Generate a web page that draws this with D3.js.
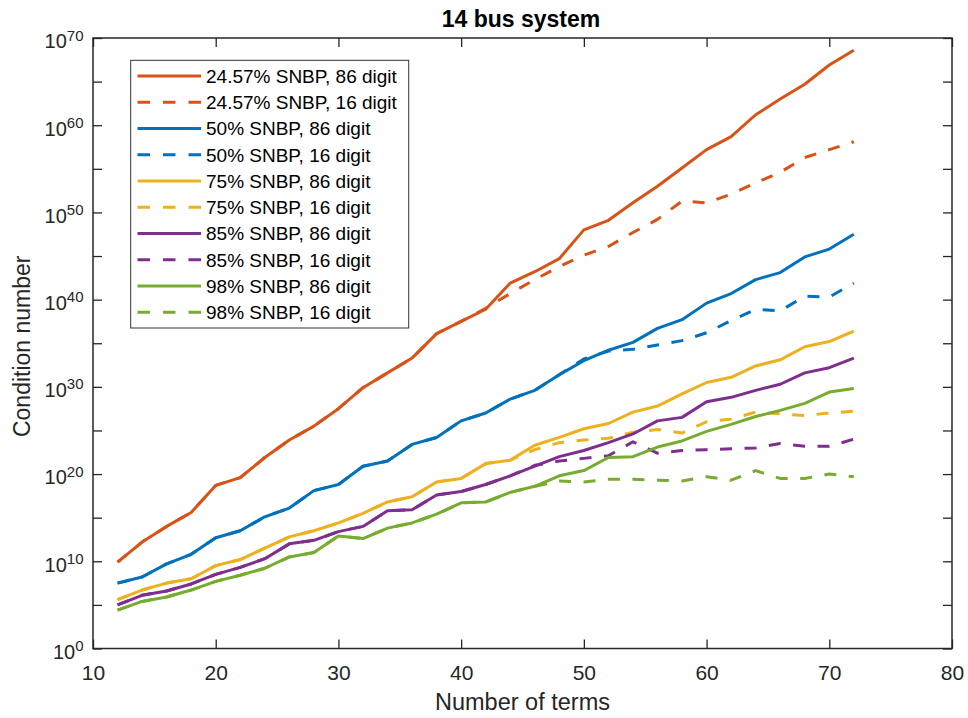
<!DOCTYPE html>
<html>
<head>
<meta charset="utf-8">
<script src="https://cdn.jsdelivr.net/npm/d3@7"></script>
<style>
html,body{margin:0;padding:0;background:#fff;}
svg{display:block;font-family:"Liberation Sans",Arial,Helvetica,sans-serif;}
</style>
</head>
<body>
<svg id="chart" width="968" height="718"></svg>
<script>
// ---- data (log10 of condition number) ----
const terms = [12,14,16,18,20,22,24,26,28,30,32,34,36,38,40,42,44,46,48,50,52,54,56,58,60,62,64,66,68,70,72];
const xTicks = [10,20,30,40,50,60,70,80];
const yTickExps = [0,5,10,15,20,25,30,35,40,45,50,55,60,65,70];
const yLabelExps = [0,10,20,30,40,50,60,70];

const snbp2457_86 = [9.9,12.2,14.0,15.6,18.7,19.6,21.9,23.9,25.5,27.5,29.9,31.6,33.3,36.1,37.5,38.9,41.9,43.2,44.7,48.0,49.1,51.1,53.0,55.1,57.2,58.7,61.2,63.0,64.7,66.9,68.6];
const snbp2457_16 = [9.9,12.2,14.0,15.6,18.7,19.6,21.9,23.9,25.5,27.5,29.9,31.6,33.3,36.1,37.5,39.0,40.7,42.3,43.8,45.1,46.1,47.7,49.2,51.3,51.1,52.1,53.4,54.6,56.3,57.2,58.1];
const snbp50_86 = [7.5,8.2,9.7,10.8,12.7,13.5,15.1,16.1,18.1,18.8,20.9,21.5,23.4,24.2,26.1,27.0,28.6,29.6,31.4,33.0,34.2,35.1,36.7,37.7,39.6,40.7,42.3,43.1,44.9,45.8,47.5];
const snbp50_16 = [7.5,8.2,9.7,10.8,12.7,13.5,15.1,16.1,18.1,18.8,20.9,21.5,23.4,24.2,26.1,27.0,28.6,29.6,31.4,33.2,34.1,34.3,34.8,35.3,36.2,37.6,38.9,38.7,40.4,40.3,41.9];
const snbp75_86 = [5.6,6.7,7.5,8.0,9.5,10.2,11.5,12.8,13.5,14.4,15.5,16.8,17.4,19.1,19.5,21.2,21.6,23.3,24.2,25.2,25.8,27.1,27.8,29.2,30.5,31.1,32.4,33.1,34.6,35.2,36.4];
const snbp75_16 = [5.6,6.7,7.5,8.0,9.5,10.2,11.5,12.8,13.5,14.4,15.5,16.8,17.4,19.1,19.5,21.2,21.6,22.8,23.6,23.9,24.1,24.8,25.1,24.7,26.0,26.3,27.1,26.9,26.7,27.0,27.2];
const snbp85_86 = [5.0,6.1,6.6,7.4,8.5,9.3,10.3,12.0,12.4,13.4,14.0,15.8,15.9,17.6,18.0,18.8,19.8,20.9,22.0,22.7,23.6,24.6,26.1,26.5,28.3,28.8,29.6,30.3,31.6,32.2,33.3];
const snbp85_16 = [5.0,6.1,6.6,7.4,8.5,9.3,10.3,12.0,12.4,13.4,14.0,15.8,15.9,17.6,18.0,18.8,19.8,21.0,21.5,21.8,22.1,23.7,22.4,22.7,22.8,22.9,23.0,23.5,23.2,23.2,24.0];
const snbp98_86 = [4.4,5.4,5.9,6.7,7.7,8.4,9.2,10.5,11.0,12.9,12.6,13.8,14.4,15.4,16.7,16.8,17.9,18.6,19.8,20.4,21.9,22.0,23.1,23.8,24.9,25.7,26.6,27.3,28.1,29.4,29.8];
const snbp98_16 = [4.4,5.4,5.9,6.7,7.7,8.4,9.2,10.5,11.0,12.9,12.6,13.8,14.4,15.4,16.7,16.8,17.9,18.6,19.2,19.1,19.4,19.4,19.3,19.2,19.7,19.3,20.4,19.5,19.5,20.0,19.7];

const seriesNames = ["24.57% SNBP, 86 digit","24.57% SNBP, 16 digit","50% SNBP, 86 digit","50% SNBP, 16 digit","75% SNBP, 86 digit","75% SNBP, 16 digit","85% SNBP, 86 digit","85% SNBP, 16 digit","98% SNBP, 86 digit","98% SNBP, 16 digit"];
const seriesData = [snbp2457_86,snbp2457_16,snbp50_86,snbp50_16,snbp75_86,snbp75_16,snbp85_86,snbp85_16,snbp98_86,snbp98_16];
const seriesColors = ["#D95319","#D95319","#0072BD","#0072BD","#EDB120","#EDB120","#7E2F8E","#7E2F8E","#77AC30","#77AC30"];
const seriesDashed = [false,true,false,true,false,true,false,true,false,true];

// ---- layout ----
const L = 93, R = 952, T = 38, B = 648.5;
const axisColor = "#262626";
const svg = d3.select("#chart");
svg.append("rect").attr("width",968).attr("height",718).attr("fill","#fff");

const x = d3.scaleLinear().domain([10,80]).range([L,R]);
const y = d3.scaleLog().domain([1,1e70]).range([B,T]);

// lines
const line = d3.line().x(d => x(d[0])).y(d => y(d[1]));
seriesData.forEach((s,i) => {
  const pts = terms.map((t,j) => [t, Math.pow(10, s[j])]);
  svg.append("path").datum(pts)
    .attr("d", line)
    .attr("fill","none")
    .attr("stroke", seriesColors[i])
    .attr("stroke-width", 3)
    .attr("stroke-linejoin","round")
    .attr("stroke-dasharray", seriesDashed[i] ? "12,12.5" : null);
});

// axes
const tickLen = 9;
const yTickVals = yTickExps.map(e => Math.pow(10,e));
function styleAxis(g){
  g.select(".domain").remove();
  g.selectAll(".tick line").attr("stroke",axisColor).attr("stroke-width",1.3);
}
const gx = svg.append("g").attr("transform",`translate(0,${B})`)
  .call(d3.axisBottom(x).tickValues(xTicks).tickSizeInner(-tickLen).tickSizeOuter(0).tickPadding(0).tickFormat(d3.format("d")));
styleAxis(gx);
gx.selectAll(".tick text").attr("y",31.5).attr("dy",null).attr("fill",axisColor).attr("font-size",21).attr("font-family","Liberation Sans, Arial, sans-serif");

const gxt = svg.append("g").attr("transform",`translate(0,${T})`)
  .call(d3.axisTop(x).tickValues(xTicks).tickSizeInner(-tickLen).tickSizeOuter(0).tickFormat(""));
styleAxis(gxt);

const gy = svg.append("g").attr("transform",`translate(${L},0)`)
  .call(d3.axisLeft(y).tickValues(yTickVals).tickSizeInner(-tickLen).tickSizeOuter(0).tickFormat(""));
styleAxis(gy);
const gyr = svg.append("g").attr("transform",`translate(${R},0)`)
  .call(d3.axisRight(y).tickValues(yTickVals).tickSizeInner(-tickLen).tickSizeOuter(0).tickFormat(""));
styleAxis(gyr);

// y tick labels with superscripts
yLabelExps.forEach(e => {
  const t = svg.append("text")
    .attr("x", L - 9.5)
    .attr("y", y(Math.pow(10,e)) + 10.3)
    .attr("text-anchor","end")
    .attr("fill",axisColor)
    .attr("font-size",20);
  t.append("tspan").text("10");
  t.append("tspan").attr("dy",-7.8).attr("font-size",15).text(String(e));
});

// box
svg.append("rect").attr("x",L).attr("y",T).attr("width",R-L).attr("height",B-T)
  .attr("fill","none").attr("stroke",axisColor).attr("stroke-width",1.5);

// title & labels
svg.append("text").attr("x",(L+R)/2 - 1.5).attr("y",27).attr("text-anchor","middle")
  .attr("font-size",23).attr("font-weight","bold").attr("fill","#000").text("14 bus system");
svg.append("text").attr("x",(L+R)/2).attr("y",710).attr("text-anchor","middle")
  .attr("font-size",23.5).attr("fill",axisColor).text("Number of terms");
svg.append("text").attr("transform",`translate(29.5,${(T+B)/2+3}) rotate(-90)`).attr("text-anchor","middle")
  .attr("font-size",23).attr("fill",axisColor).text("Condition number");

// legend
const lg = svg.append("g");
lg.append("rect").attr("x",130.7).attr("y",60.3).attr("width",278).attr("height",267.7)
  .attr("fill","#fff").attr("stroke","#333").attr("stroke-width",1);
seriesNames.forEach((name,i) => {
  const cy = 76 + i*26.25;
  lg.append("line").attr("x1",137.5).attr("x2",201).attr("y1",cy).attr("y2",cy)
    .attr("stroke",seriesColors[i]).attr("stroke-width",3)
    .attr("stroke-dasharray", seriesDashed[i] ? "12.5,13" : null);
  lg.append("text").attr("x",206).attr("y",cy+6.8).attr("font-size",19).attr("fill","#000").text(name);
});
</script>
</body>
</html>
